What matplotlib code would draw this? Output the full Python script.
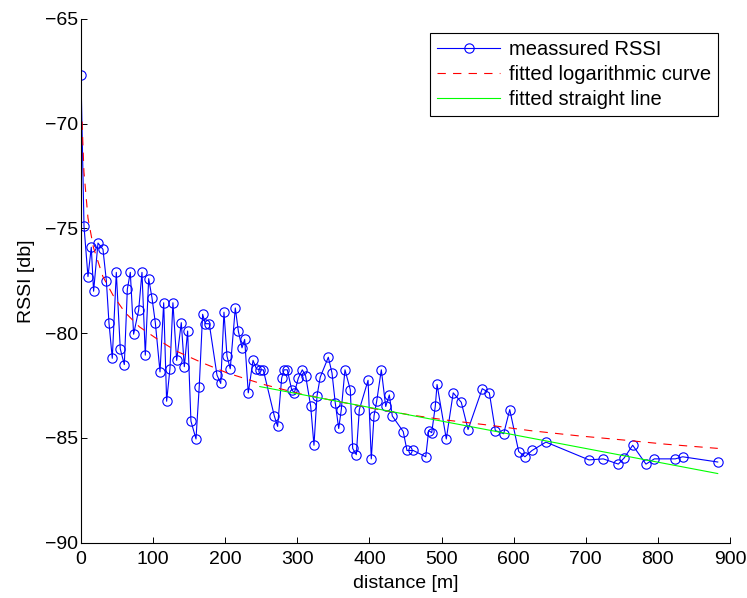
import numpy as np
import matplotlib
matplotlib.use("Agg")
import matplotlib.pyplot as plt

dist = [0, 4.2, 9.7, 14.3, 17.5, 23.6, 30.5, 35.2, 38.8, 43.4,
        49.0, 54.5, 60.1, 64.3, 68.4, 73.0, 80.0, 84.6, 89.2, 93.9,
        98.4, 103.1, 109.6, 114.7, 118.8, 123.4, 127.5, 132.7, 139.1, 143.3,
        147.9, 152.5, 159.5, 164.0, 168.7, 172.5, 177.9, 188.6, 193.8, 198.3,
        202.5, 207.0, 214.0, 218.2, 223.3, 227.0, 232.0, 238.6, 243.3, 247.9,
        252.8, 268.1, 272.7, 278.3, 281.6, 286.1, 292.2, 295.9, 301.4, 306.9,
        311.6, 318.6, 323.1, 327.3, 331.8, 343.0, 348.1, 352.7, 357.4, 361.0,
        366.1, 373.5, 376.8, 381.8, 386.0, 398.1, 402.6, 406.4, 410.1, 416.5,
        422.6, 427.6, 431.7, 446.9, 452.1, 460.8, 478.1, 482.2, 486.4, 491.3,
        493.8, 506.6, 516.2, 527.4, 536.8, 556.5, 566.3, 574.6, 586.2, 594.6,
        607.0, 615.7, 625.5, 644.8, 704.5, 724.3, 745.2, 753.4, 765.1, 783.5,
        795.1, 824.2, 834.4, 883.0]
rssi = [-67.7, -74.9, -77.3, -75.9, -78.0, -75.7, -76.0, -77.5, -79.5, -81.2,
        -77.1, -80.75, -81.5, -77.9, -77.1, -80.05, -78.9, -77.1, -81.05, -77.4,
        -78.3, -79.5, -81.85, -78.55, -83.25, -81.7, -78.55, -81.3, -79.5, -81.6,
        -79.9, -84.2, -85.05, -82.55, -79.1, -79.55, -79.55, -82.0, -82.4, -79.0,
        -81.1, -81.7, -78.8, -79.9, -80.7, -80.3, -82.85, -81.3, -81.7, -81.75,
        -81.75, -83.95, -84.45, -82.15, -81.75, -81.75, -82.7, -82.85, -82.15, -81.75,
        -82.05, -83.5, -85.35, -83.0, -82.1, -81.15, -81.9, -83.35, -84.55, -83.65,
        -81.75, -82.7, -85.5, -85.8, -83.65, -82.25, -86.0, -83.95, -83.25, -81.75,
        -83.5, -82.95, -83.95, -84.7, -85.6, -85.6, -85.9, -84.65, -84.75, -83.5,
        -82.45, -85.05, -82.85, -83.3, -84.6, -82.65, -82.85, -84.65, -84.8, -83.65,
        -85.65, -85.9, -85.6, -85.2, -86.05, -86.0, -86.25, -85.95, -85.35, -86.25,
        -86.0, -86.0, -85.9, -86.15]

log_x = [1.5, 4.1, 9.7, 17.2, 30.4, 44.6, 60.8, 81.1, 106.5, 131.8, 167.3, 202.8,
         253.5, 304.2, 354.9, 405.6, 456.3, 506.9, 567.8, 622.5, 689.5, 752.3,
         811.1, 883.1]
log_y = [-69.9, -72.3, -74.5, -75.9, -77.3, -78.2, -79.0, -79.7, -80.3, -80.85,
         -81.4, -81.9, -82.45, -82.9, -83.25, -83.6, -83.9, -84.15, -84.4, -84.65,
         -84.9, -85.1, -85.3, -85.5]

# fitted straight line
line_x = [248, 883]
line_y = [-82.55, -86.7]

plt.rcParams['font.family'] = ['Liberation Sans', 'DejaVu Sans']
plt.rcParams['font.size'] = 14

fig = plt.figure(figsize=(7.47, 5.98), dpi=100)
ax = fig.add_axes([0.1084, 0.0925, 0.8688, 0.876])

ax.plot(dist, rssi, '-o', color=(0, 0, 1), lw=0.8, ms=6.7, mfc='none',
        mec=(0, 0, 1), mew=0.8, label='meassured RSSI')
ax.plot(log_x, log_y, color=(1, 0, 0), lw=0.8, linestyle=(0, (7.5, 6.5)),
        label='fitted logarithmic curve')
ax.plot(line_x, line_y, color=(0, 1, 0), lw=0.8, label='fitted straight line')

ax.set_xlim(0, 900)
ax.set_ylim(-90, -65)
ax.set_xticks(np.arange(0, 901, 100))
ax.set_yticks(np.arange(-90, -64, 5))
ax.spines['top'].set_visible(False)
ax.spines['right'].set_visible(False)
ax.tick_params(direction='in', length=4.3, width=0.7, top=False, right=False)
ax.tick_params(axis='x', pad=6)
ax.tick_params(axis='y', pad=2)
for s in ['left', 'bottom']:
    ax.spines[s].set_linewidth(0.8)

ax.set_xlabel('distance [m]', labelpad=5)
ax.set_ylabel('RSSI [db]', labelpad=7)

leg = ax.legend(loc='upper right', bbox_to_anchor=(0.9815, 0.9729),
                borderaxespad=0, fancybox=False, edgecolor='black',
                framealpha=1, handlelength=3.1, handletextpad=0.45,
                labelspacing=0.3, borderpad=0.35, fontsize=14.5)
leg.get_frame().set_linewidth(0.8)

fig.savefig('out.png', dpi=100)
